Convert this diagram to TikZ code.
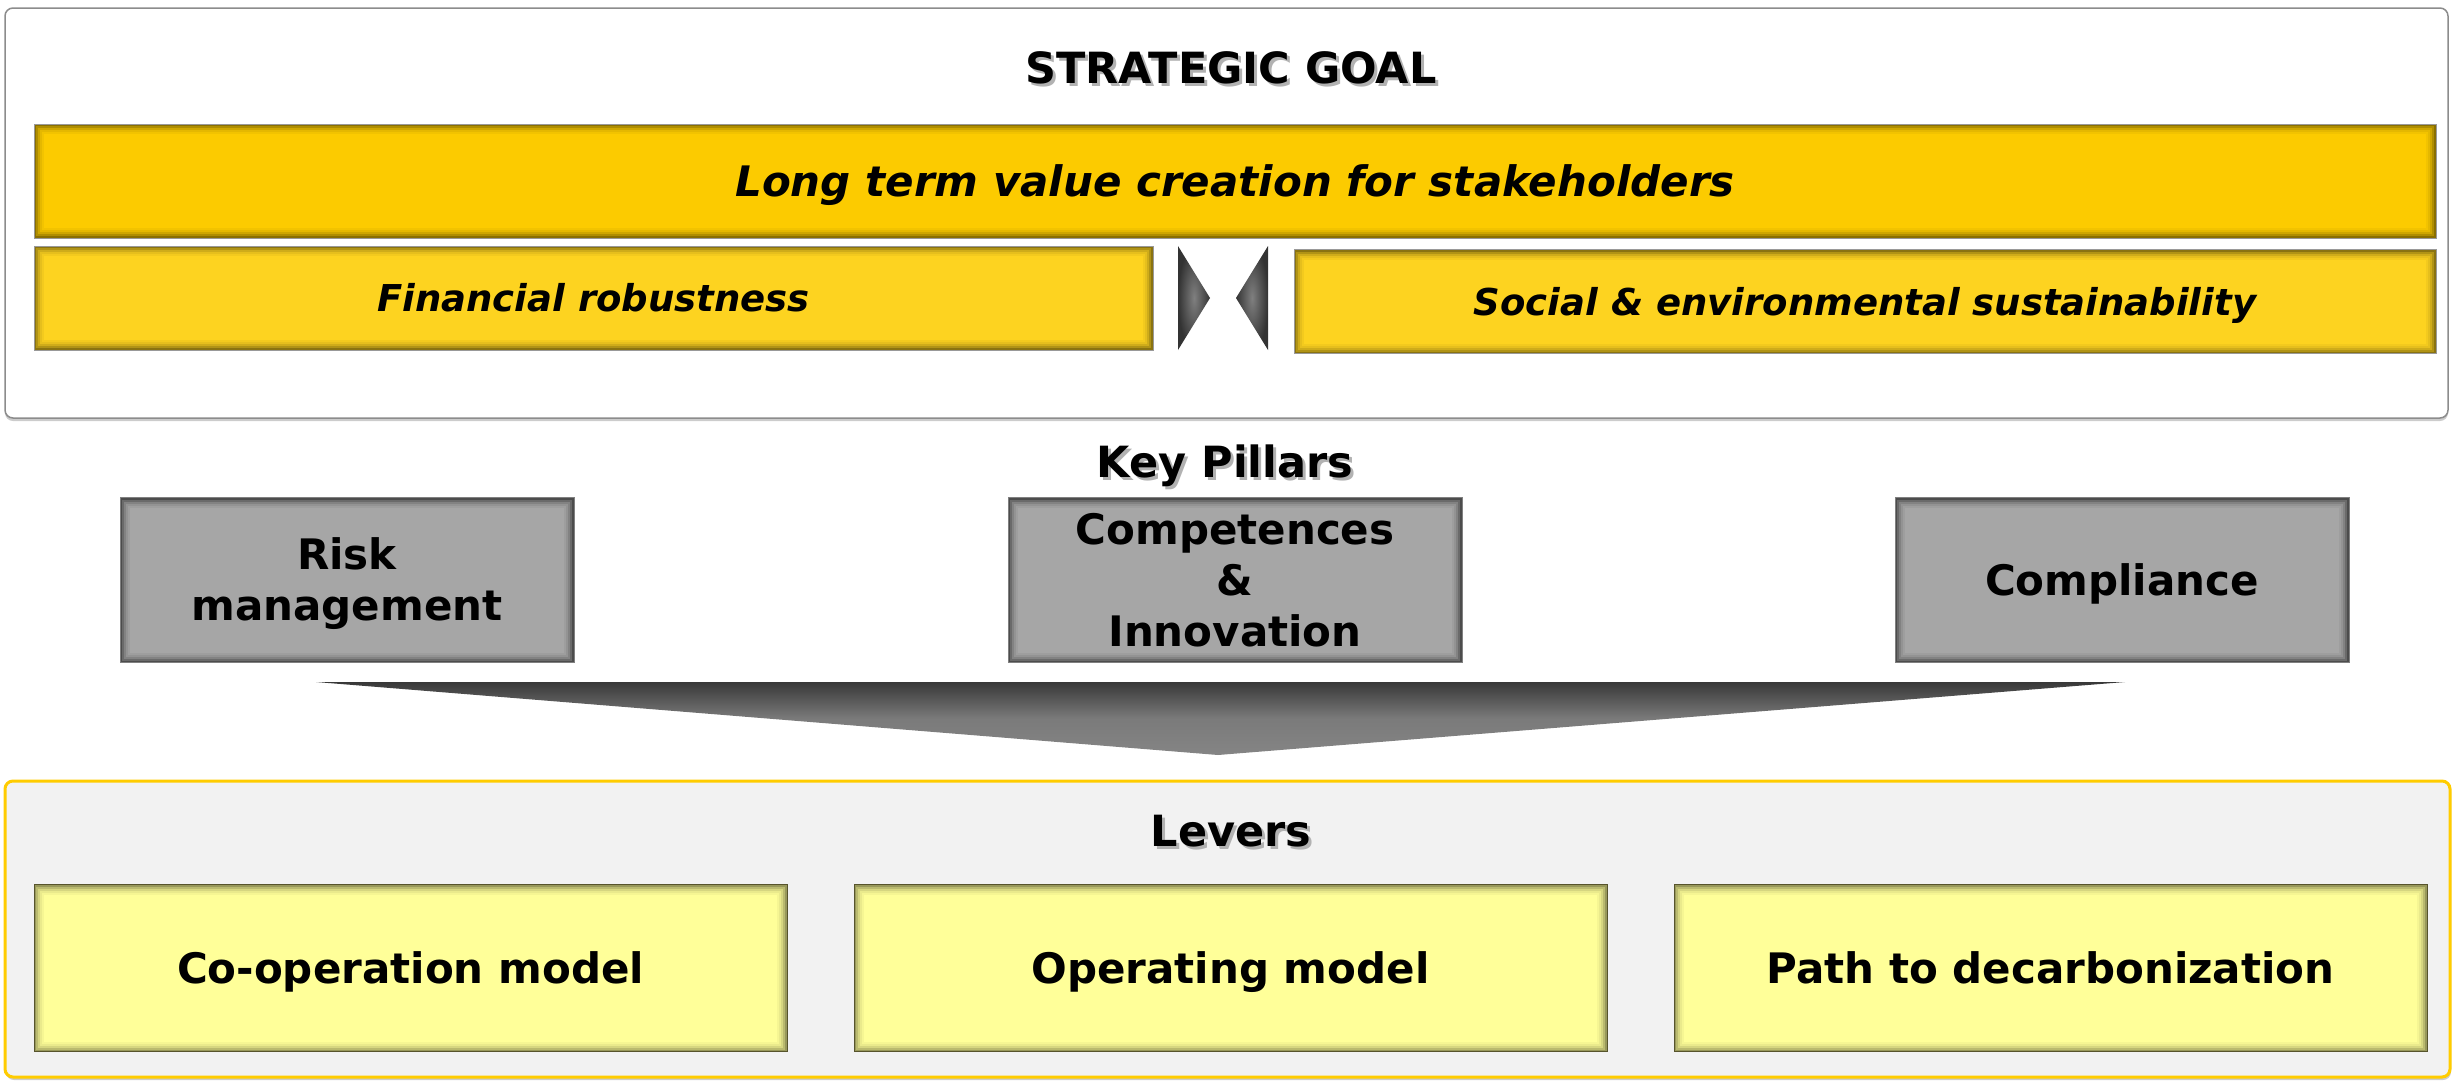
\documentclass[tikz,border=0pt]{standalone}
\usepackage{fontspec}
\setmainfont{DejaVu Sans}
\usepackage{xcolor}
\usepackage{tikz}
\usetikzlibrary{shapes,calc,positioning,shadows}

\definecolor{goalgold}{HTML}{FCCB00}
\definecolor{subgold}{HTML}{FDD320}
\definecolor{pillargray}{HTML}{A6A6A6}
\definecolor{leveryellow}{HTML}{FFFF99}
\definecolor{leverback}{HTML}{F2F2F2}
\definecolor{leverline}{HTML}{FFCC00}

\newcommand{\shadowed}[1]{\makebox[0pt][l]{\hspace{3pt}\raisebox{-3pt}{\textcolor{black!30}{#1}}}#1}

\begin{document}
\begin{tikzpicture}[
	x=1pt, y=-1pt,
	every node/.style = {inner sep=0pt, outer sep=0pt, align=center,
	font=\bfseries\fontsize{42}{51}\selectfont},
	oneline/.style = {text height=#1, text depth=0pt},
	inset/.style = {path picture={
		\foreach \d/\o [evaluate=\o as \op using \o*#1] in {1/0.45,3/0.3,5/0.18,7/0.09,9/0.04}
			\draw[black, opacity=\op, line width=2pt]
				([shift={(\d pt,-\d pt)}]path picture bounding box.north west) rectangle
				([shift={(-\d pt,\d pt)}]path picture bounding box.south east);
	}},
	title/.style = {oneline=31pt, font=\bfseries\fontsize{43}{51}\selectfont},
	goalbar/.style = {oneline=31pt, fill=goalgold, draw=black!40, line width=0.8pt, inset=1,
	minimum width=2402pt, minimum height=114pt,
	font=\bfseries\itshape\fontsize{42}{51}\selectfont},
	subbar/.style = {oneline=27pt, fill=subgold, draw=black!40, line width=0.8pt, inset=1,
	minimum height=104pt, font=\bfseries\itshape\fontsize{37}{51}\selectfont},
	pillar/.style = {fill=pillargray, draw=black!50, line width=0.8pt, inset=1.2,
	minimum width=454pt, minimum height=165pt},
	lever/.style = {oneline=31pt, fill=leveryellow, draw=black!50!olive, line width=0.8pt, inset=0.9,
	minimum width=753pt, minimum height=167pt},
	goalframe/.style = {rounded corners=8pt, fill=white, draw=black!45, line width=1.5pt,
	drop shadow={shadow xshift=0pt, shadow yshift=-3pt, opacity=0.4}},
	leverframe/.style = {rounded corners=8pt, fill=leverback, draw=leverline, line width=3pt,
	drop shadow={shadow xshift=1pt, shadow yshift=-3pt, opacity=0.4}},
	bowtie/.style = {shading=radial, inner color=black!50, outer color=black!80},
	bigarrow/.style = {top color=black!78, bottom color=black!48, middle color=black!52}
]
\useasboundingbox (0,0) rectangle (2453,1080);

\draw[goalframe] (5,8) rectangle (2448,418);
\draw[leverframe] (5,781) rectangle (2450,1077);

\node[title] (sgoal) at (1231,68) {\shadowed{STRATEGIC GOAL}};
\node[goalbar] (goal) at (1235,181) {Long term value creation for stakeholders};
\node[subbar, minimum width=1119pt] (fin) at (593.5,298) {Financial robustness};
\node[subbar, minimum width=1142pt] (soc) at (1865,301.5) {Social \& environmental sustainability};

\path[bowtie] (1178,246) -- (1210,298) -- (1178,350) -- cycle;
\path[bowtie] (1268,246) -- (1236,298) -- (1268,350) -- cycle;

\node[title, anchor=base] (kp) at (1225,477) {\shadowed{Key Pillars}};
\node[pillar] (risk) at (347,580) {Risk\rule{0pt}{40pt}\\management};
\node[pillar, right=434pt of risk] (comp) {Competences\\\&\\Innovation};
\node[pillar, oneline=31pt, right=433pt of comp] (compl) {Compliance};

\path[bigarrow] (316,682) -- (2125,682) -- (1218,755) -- cycle;

\node[title] (lev) at (1231,831) {\shadowed{Levers}};
\node[lever] (coop) at (410.5,968) {Co-operation model};
\node[lever, right=67pt of coop] (opm) {Operating model};
\node[lever, right=67pt of opm] (path) {Path to decarbonization};
\end{tikzpicture}
\end{document}
